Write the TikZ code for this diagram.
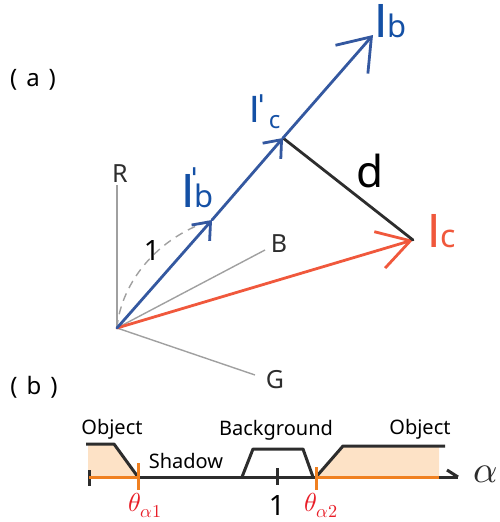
\documentclass[tikz,border=0pt]{standalone}
\usepackage{fontspec}
\usepackage{unicode-math}
\setmainfont{Noto Sans}
\setmathfont{Latin Modern Math}
\newfontfamily\barfont{Liberation Sans}
\usetikzlibrary{arrows.meta}
\definecolor{bluel}{RGB}{52,88,160}
\definecolor{bluet}{RGB}{20,80,165}
\definecolor{redl}{RGB}{240,88,60}
\definecolor{orl}{RGB}{240,128,32}
\definecolor{peach}{RGB}{253,226,198}
\definecolor{axg}{RGB}{160,160,160}
\definecolor{dk}{RGB}{45,45,45}
\definecolor{tred}{RGB}{232,30,40}
\newcommand{\fs}[1]{\fontsize{#1}{#1}\selectfont}
\begin{document}
\begin{tikzpicture}[x=1pt,y=-1pt,
  lbl/.style={inner sep=0pt,outer sep=0pt},
  axis/.style={axg,line width=1.4pt},
  bigtip/.tip={Straight Barb[length=30pt,width=43pt]},
  redtip/.tip={Straight Barb[length=32pt,width=38pt]},
  smalltip/.tip={Straight Barb[length=15pt,width=24pt]},
  vec/.style={line width=2.8pt,line cap=round,line join=round},
  bline/.style={dk,line width=3pt,line join=round},
  oline/.style={orl,line width=3pt}]
\useasboundingbox (0,0) rectangle (499,522);
% points
\coordinate (O) at (117,328);
\coordinate (Rt) at (117,185);
\coordinate (Bt) at (265,250);
\coordinate (Gt) at (255,375);
\coordinate (Bp) at (212,220);
\coordinate (Cp) at (283,138);
\coordinate (Ib) at (373,35);
\coordinate (Ic) at (413,240);
% axes
\draw[axis] (O) -- (Rt);
\draw[axis] (O) -- (Bt);
\draw[axis] (O) -- (Gt);
\draw[axg,line width=1.4pt,dash pattern=on 8pt off 6pt] (O) .. controls (120,290) and (150,240) .. (Bp);
% vectors
\draw[vec,redl,-{redtip}] (O) -- (Ic);
\draw[vec,dk] (Cp) -- (Ic);
\draw[vec,bluel,-{smalltip}] (O) -- (Bp);
\draw[vec,bluel,-{smalltip}] (Bp) -- (Cp);
\draw[vec,bluel,-{bigtip}] (Cp) -- (Ib);
% labels (a)
\node[lbl,anchor=base] (la) at (33,86) {\fs{24}(\hspace{9pt}a\hspace{9pt})};
\node[lbl,anchor=base,text=dk] (lR) at (120,182) {\fs{25}R};
\node[lbl,anchor=base,text=dk] (lB) at (279,252) {\fs{25}B};
\node[lbl,anchor=base,text=dk] (lG) at (275,388) {\fs{25}G};
\node[lbl,anchor=base,text=black] (l1) at (152,260) {\fs{28}1};
\node[lbl,anchor=base,text=black] (ld) at (370,187) {\fs{44}d};
\node[lbl,anchor=base west,text=bluet] (lIb) at (374.5,37) {\barfont\fs{48}I{\normalfont\fs{31}b}};
\node[lbl,anchor=base west,text=bluet] (lIbp) at (181.5,207) {\barfont\fs{48}I\rlap{\kern-3pt\raisebox{17pt}{\normalfont\fs{30}ˈ}}{\normalfont\fs{31}b}};
\node[lbl,anchor=base west,text=bluet] (lIcp) at (249.4,122) {\barfont\fs{38}I\rlap{\kern-1pt\raisebox{5pt}{\normalfont\fs{30}ˈ}}\kern9pt\raisebox{-6pt}{\normalfont\fs{24}c}};
\node[lbl,anchor=base west,text=redl] (lIc) at (427.5,247) {\barfont\fs{48}I{\normalfont\fs{32}c}};
% part (b)
\node[lbl,anchor=base] (lb) at (34,394) {\fs{24}(\hspace{9pt}b\hspace{9pt})};
\fill[peach] (88,444) -- (114,444) -- (138,477) -- (88,477) -- cycle;
\fill[peach] (316,477) -- (343,446) -- (439,446) -- (439,477) -- cycle;
\draw[bline] (86,444) -- (114,444) -- (138,477);
\draw[bline] (138,477) -- (458,477);
\draw[bline] (447,470) -- (458,477);
\draw[bline] (89,470) -- (89,486);
\draw[bline] (242,477) -- (253,449) -- (303,449) -- (313,477);
\draw[bline] (277,468) -- (277,485);
\draw[bline] (316,477) -- (343,446) -- (445,446);
\draw[oline] (89,477) -- (138,477);
\draw[oline] (316,477) -- (439,477);
\draw[oline] (138,463) -- (138,490);
\draw[oline] (316,467) -- (316,490);
\node[lbl,anchor=base] (o1) at (112,434) {\fs{20}Object};
\node[lbl,anchor=base] (sh) at (186,468) {\fs{20}Shadow};
\node[lbl,anchor=base] (bg) at (276,435) {\fs{20}Background};
\node[lbl,anchor=base] (o2) at (420,434) {\fs{20}Object};
\node[lbl,anchor=base] (one) at (277,515) {\fs{28}1};
\node[lbl,anchor=base,text=tred] (t1) at (145,511) {\fs{26}$\theta_{\alpha 1}$};
\node[lbl,anchor=base,text=tred] (t2) at (321,511) {\fs{26}$\theta_{\alpha 2}$};
\node[lbl,anchor=base,text=dk] (al) at (486,482) {\fs{38}$\alpha$};
\end{tikzpicture}
\end{document}
